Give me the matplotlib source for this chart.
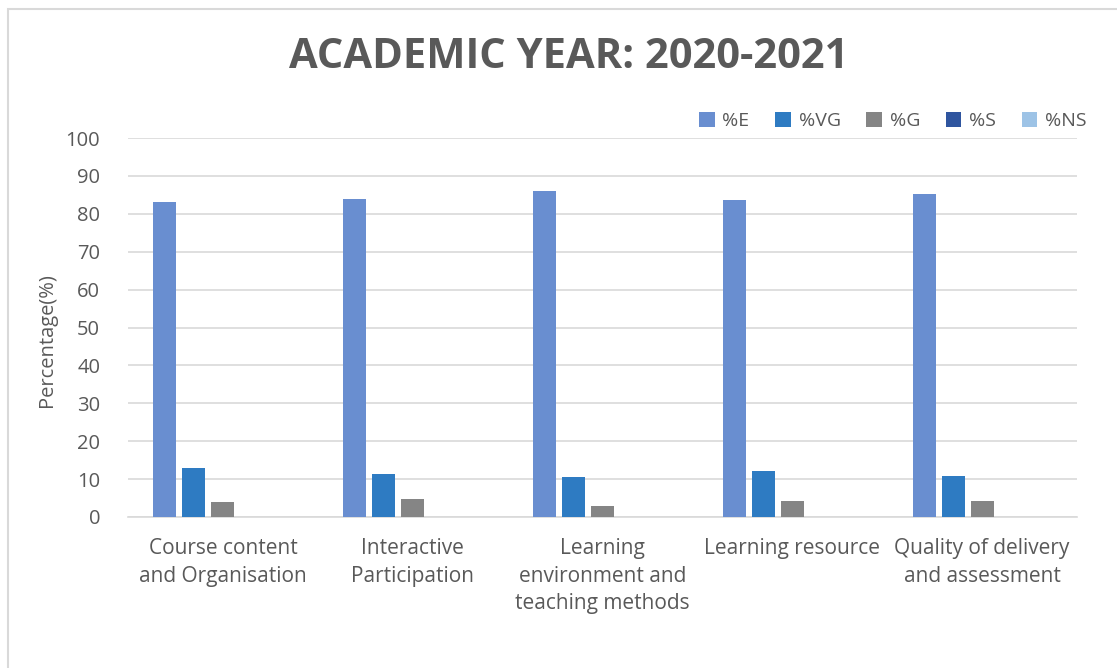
import matplotlib.pyplot as plt
import numpy as np
from matplotlib.patches import Rectangle

plt.rcParams['font.family'] = ['Open Sans', 'DejaVu Sans']

categories = ["Course content\nand Organisation", "Interactive\nParticipation",
              "Learning\nenvironment and\nteaching methods", "Learning resource",
              "Quality of delivery\nand assessment"]
series_names = ["%E", "%VG", "%G", "%S", "%NS"]
pct_e = [83.0, 83.8, 85.9, 83.6, 85.3]
pct_vg = [12.8, 11.3, 10.5, 12.2, 10.9]
pct_g = [3.9, 4.8, 2.8, 4.1, 4.2]
pct_s = [0, 0, 0, 0, 0]
pct_ns = [0, 0, 0, 0, 0]
colors = ["#698ED0", "#2E7BC2", "#858585", "#2F559F", "#9DC3E6"]

fig = plt.figure(figsize=(11.17, 6.68), dpi=100)
ax = fig.add_axes([128 / 1117, 1 - 517 / 668, (1077 - 128) / 1117, (517 - 138) / 668])

x = np.arange(len(categories))
width = 0.121
step = 0.153
for i, (vals, name) in enumerate(zip([pct_e, pct_vg, pct_g, pct_s, pct_ns], series_names)):
    ax.bar(x + (i - 2) * step, vals, width, color=colors[i], label=name, zorder=3)

ax.set_xlim(-0.5, len(categories) - 0.5)
ax.set_ylim(0, 100)
ax.set_yticks(range(0, 101, 10))
ax.grid(axis='y', color='#D9D9D9', lw=1.2, zorder=0)
for s in ['top', 'right', 'left']:
    ax.spines[s].set_visible(False)
ax.spines['bottom'].set_color('#D9D9D9')
ax.spines['bottom'].set_linewidth(1.2)
ax.tick_params(axis='both', length=0, labelsize=14.5, labelcolor='#595959')
ax.tick_params(axis='y', pad=20)
ax.tick_params(axis='x', pad=15)
ax.set_xticks(x)
ax.set_xticklabels(categories, linespacing=1.42, fontsize=15)
ax.set_ylabel("Percentage(%)", fontsize=14.5, color='#595959')
ax.yaxis.set_label_coords(-0.075, 0.467)

fig.text(569 / 1117, 1 - 58 / 668, "ACADEMIC YEAR: 2020-2021", ha='center', va='center',
         fontsize=30, fontweight='bold', color='#595959')

fig.legend(loc='center right', bbox_to_anchor=(1104 / 1117, 1 - 121 / 668), ncol=5,
           frameon=False, fontsize=14, labelcolor='#595959', handlelength=0.8,
           handleheight=0.8, handletextpad=0.4, columnspacing=1.32)

fig.patches.append(Rectangle((8 / 1117, -0.1), 1.2, (668 - 9) / 668 + 0.1,
                             transform=fig.transFigure, fill=False,
                             edgecolor='#D9D9D9', lw=1.5))

fig.savefig("out.png", dpi=100)
